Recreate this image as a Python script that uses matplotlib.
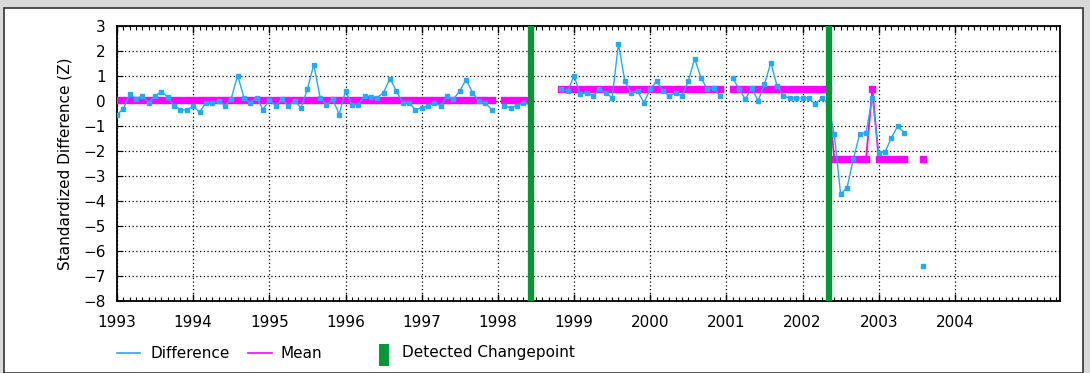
import numpy as np
import matplotlib
matplotlib.use("Agg")
import matplotlib.pyplot as plt
from matplotlib.lines import Line2D
from matplotlib.patches import Rectangle
from matplotlib.ticker import MultipleLocator

# ---- data (monthly, starting Jan 1993; None = missing) ----
start_year = 1993
difference = [
    -0.55, -0.31, 0.27, 0.10, 0.20, -0.07, 0.20, 0.38, 0.16, -0.20, -0.34, -0.37,   # 1993
    -0.20, -0.45, -0.07, -0.07, 0.00, -0.18, 0.10, 1.02, 0.14, -0.07, 0.14, -0.34,  # 1994
    0.05, -0.20, 0.07, -0.20, 0.00, -0.27, 0.48, 1.46, 0.14, -0.14, 0.07, -0.54,    # 1995
    0.41, -0.14, -0.14, 0.20, 0.18, 0.14, 0.34, 0.90, 0.41, -0.07, -0.07, -0.34,    # 1996
    -0.27, -0.20, -0.07, -0.20, 0.20, 0.07, 0.41, 0.86, 0.34, 0.00, -0.07, -0.34,   # 1997
    None, -0.20, -0.27, -0.18, -0.07, -0.14, None, None, None, None, 0.47, 0.40,    # 1998
    1.00, 0.27, 0.33, 0.20, 0.47, 0.33, 0.13, 2.29, 0.80, 0.33, 0.40, -0.07,        # 1999
    0.47, 0.80, 0.40, 0.20, 0.33, 0.20, 0.80, 1.70, 0.93, 0.47, 0.53, 0.20,         # 2000
    None, 0.93, 0.47, 0.07, 0.53, 0.00, 0.67, 1.53, 0.60, 0.20, 0.12, 0.12,         # 2001
    0.12, 0.12, -0.13, 0.12, -0.07, -1.33, -3.73, -3.47, -2.33, -1.33, -1.27, 0.13, # 2002
    -2.07, -2.04, -1.47, -1.00, -1.27, None, None, -6.60,                           # 2003
]
mean = [
    0.06] * 60 + [None] + [0.06] * 5 + [None] * 4 + [0.48] * 26 + [None] + [0.48] * 16 + \
    [-2.33] * 6 + [0.50] + [-2.33] * 5 + [None, None] + [-2.33]
changepoints = [1998.44, 2002.35]
year_labels = list(range(1993, 2005))
y_ticks = list(range(-8, 4))

# ---- figure ----
W, H = 1090, 373
fig = plt.figure(figsize=(W / 100, H / 100), dpi=100, facecolor="#d9d9d9")
fig.add_artist(Rectangle((4 / W, 0), 1079 / W, (H - 8) / H, transform=fig.transFigure,
                         facecolor="white", edgecolor="#333333", lw=1.2, zorder=0))

ax = fig.add_axes([117 / W, 1 - 301 / H, (1060 - 117) / W, (301 - 26) / H])
ax.set_facecolor("white")

t = np.array([start_year + i / 12 for i in range(len(difference))])
d = np.array([np.nan if v is None else v for v in difference], dtype=float)
m = np.array([np.nan if v is None else v for v in mean], dtype=float)

ax.plot(t, m, color="#ff00ff", lw=1.3, marker="s", ms=4.2, mec="#ff00ff", zorder=3)
ax.plot(t, d, color="#22aaff", lw=1.0, marker="s", ms=3.0, mec="#22aaff", zorder=4)
for cp in changepoints:
    ax.axvline(cp, color="#009933", lw=4.5, zorder=5)

ax.set_xlim(1993, 2005.38)
ax.set_ylim(-8, 3)
ax.set_xticks(year_labels)
ax.set_xticklabels([str(y) for y in year_labels])
ax.xaxis.set_minor_locator(MultipleLocator(1 / 12))
ax.set_yticks(y_ticks)
ax.set_yticklabels([("\u2212" + str(-v)) if v < 0 else str(v) for v in y_ticks])
ax.tick_params(axis="x", which="both", direction="in", top=True, bottom=True, labelsize=11,
               pad=10, colors="black")
ax.tick_params(axis="x", which="major", length=5, width=1)
ax.tick_params(axis="x", which="minor", length=3, width=0.8)
ax.tick_params(axis="y", which="major", direction="in", length=4, labelsize=11, pad=8)
ax.grid(True, which="major", color="black", linestyle=(0, (1, 2)), lw=0.9)
for s in ax.spines.values():
    s.set_linewidth(1.3)
ax.set_ylabel("Standardized Difference (Z)", fontsize=11, labelpad=8)

# ---- legend (manual, figure coordinates) ----
ly = 1 - 353 / H
fig.add_artist(Line2D([117 / W, 140 / W], [ly, ly], color="#22aaff", lw=1.2, transform=fig.transFigure))
fig.text(150 / W, ly, "Difference", fontsize=11, va="center", ha="left")
fig.add_artist(Line2D([248 / W, 272 / W], [ly, ly], color="#ff00ff", lw=1.2, transform=fig.transFigure))
fig.text(281 / W, ly, "Mean", fontsize=11, va="center", ha="left")
fig.add_artist(Rectangle((379 / W, 1 - 366 / H), 10 / W, 22 / H, transform=fig.transFigure,
                         facecolor="#009933", edgecolor="none"))
fig.text(402 / W, ly, "Detected Changepoint", fontsize=11, va="center", ha="left")

fig.savefig("out.png", dpi=100, facecolor=fig.get_facecolor())
